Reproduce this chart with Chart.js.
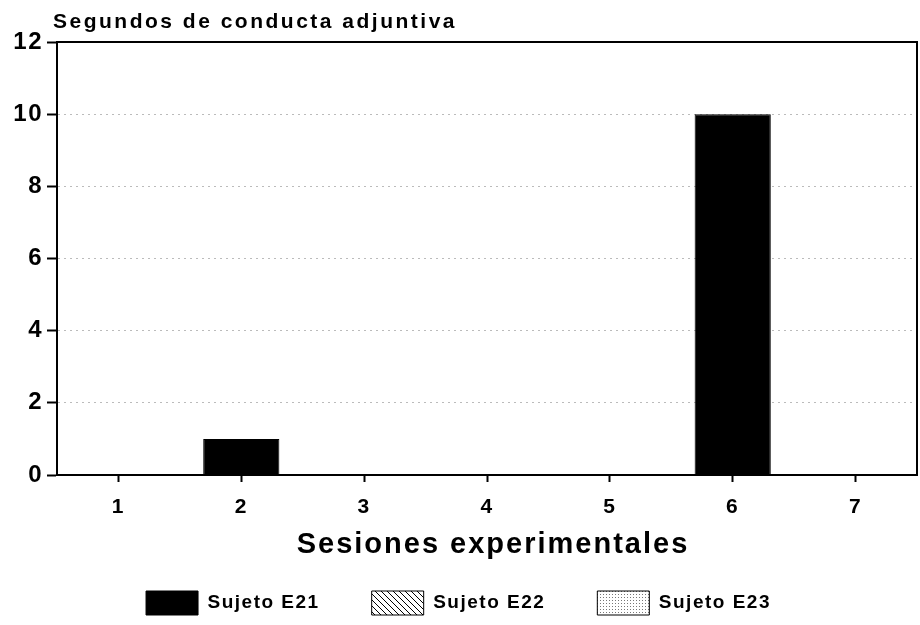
<!DOCTYPE html>
<html><head><meta charset="utf-8">
<script src="https://cdn.jsdelivr.net/npm/chart.js@4/dist/chart.umd.min.js"></script>
<style>html,body{margin:0;padding:0;background:#fff}#wrap{width:920px;height:625px}</style>
</head><body><div id="wrap"><canvas id="c" width="920" height="625"></canvas></div>
<script>
const categories = ['1','2','3','4','5','6','7'];
const seriesNames = ['Sujeto E21','Sujeto E22','Sujeto E23'];
const e21 = [0, 1, 0, 0, 0, 10, 0];
const e22 = [0, 0, 0, 0, 0, 0, 0];
const e23 = [0, 0, 0, 0, 0, 0, 0];
const yTitle = 'Segundos de conducta adjuntiva';
const xTitle = 'Sesiones experimentales';
const yMax = 12, yStep = 2;
const FONT = '"Liberation Sans", Arial, sans-serif';

function hatch(){
  const c=document.createElement('canvas');c.width=6;c.height=6;const g=c.getContext('2d');
  g.fillStyle='#fff';g.fillRect(0,0,6,6);g.strokeStyle='#000';g.lineWidth=1;
  g.beginPath();g.moveTo(0,0);g.lineTo(6,6);g.moveTo(-3,3);g.lineTo(3,9);g.moveTo(3,-3);g.lineTo(9,3);g.stroke();
  return g.createPattern(c,'repeat');
}
function dots(){
  const c=document.createElement('canvas');c.width=3;c.height=3;const g=c.getContext('2d');
  g.fillStyle='#fff';g.fillRect(0,0,3,3);g.fillStyle='#777';g.fillRect(0,0,1,1);
  return g.createPattern(c,'repeat');
}

const frame = {
  id:'frame',
  beforeUpdate(chart){ chart.ctx.letterSpacing='1.5px'; },
  beforeDraw(chart){ chart.ctx.letterSpacing='1.5px'; },
  afterDraw(chart){
    const a=chart.chartArea, ctx=chart.ctx;
    ctx.save();ctx.strokeStyle='#000';ctx.lineWidth=2;
    ctx.strokeRect(a.left,a.top,a.right-a.left,a.bottom-a.top);
    ctx.fillStyle='#000';
    ctx.letterSpacing='2.5px';
    ctx.font='bold 21px '+FONT;
    ctx.textBaseline='alphabetic';ctx.textAlign='left';
    ctx.fillText(yTitle,53,28);
    ctx.letterSpacing='2px';
    ctx.font='bold 29px '+FONT;
    ctx.textAlign='center';ctx.textBaseline='middle';
    ctx.fillText(xTitle,(a.left+a.right)/2+6,545);
    ctx.restore();
  }
};

new Chart(document.getElementById('c'),{
  type:'bar',
  data:{labels:categories,datasets:[
    {label:seriesNames[0],data:e21,backgroundColor:'#000',borderColor:'#000',borderWidth:1},
    {label:seriesNames[1],data:e22,backgroundColor:hatch(),borderColor:'#000',borderWidth:1},
    {label:seriesNames[2],data:e23,backgroundColor:dots(),borderColor:'#000',borderWidth:1}
  ]},
  options:{
    responsive:false,animation:false,
    layout:{padding:{left:0,right:3,top:42,bottom:0}},
    datasets:{bar:{barPercentage:0.62,categoryPercentage:1}},
    scales:{
      x:{stacked:true,offset:true,
        grid:{offset:false,drawOnChartArea:false,drawTicks:true,tickLength:7,tickColor:'#000',tickWidth:2},
        border:{color:'#000',width:2},
        ticks:{color:'#000',font:{family:FONT,size:21,weight:'bold'},padding:13},
        afterFit(s){s.height=64;}
      },
      y:{stacked:true,min:0,max:yMax,
        grid:{color:'#bbb',lineWidth:1,tickLength:10,tickColor:'#000',tickWidth:2},
        border:{color:'#000',width:2,dash:[2,4]},
        ticks:{stepSize:yStep,color:'#000',font:{family:FONT,size:24,weight:'bold'},padding:4},
        afterFit(s){s.width=57;}
      }
    },
    plugins:{
      legend:{position:'bottom',labels:{boxWidth:52,boxHeight:24,padding:52,color:'#000',font:{family:FONT,size:19,weight:'bold'}}},
      tooltip:{enabled:false}
    }
  },
  plugins:[frame]
});
</script></body></html>
